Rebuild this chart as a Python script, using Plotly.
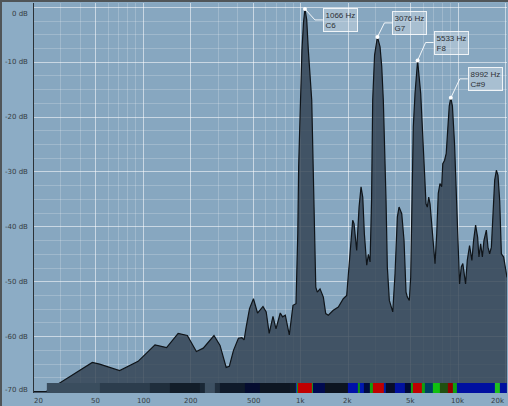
import math
import plotly.graph_objects as go

# ---------------------------------------------------------------- data
FREQ_HZ = [20, 24.3, 47.6, 53, 71, 93, 119, 141, 167, 191, 218, 241, 282, 308, 337, 353,
           375, 403, 424, 438, 451, 474, 502, 533, 577, 605, 632, 668, 698, 743, 769, 800,
           848, 895, 935, 945, 960, 972, 995, 1020, 1044, 1066, 1094, 1120, 1177, 1205,
           1223, 1249, 1277, 1329, 1395, 1444, 1500, 1613, 1736, 1867, 1962, 2030, 2091,
           2142, 2184, 2271, 2351, 2420, 2482, 2540, 2630, 2694, 2762, 2822, 2870, 2950,
           3076, 3195, 3275, 3352, 3488, 3555, 3660, 3848, 3978, 4115, 4218, 4388, 4538,
           4672, 4761, 4901, 5001, 5075, 5120, 5195, 5328, 5533, 5790, 5963, 6105, 6258,
           6376, 6508, 6634, 6801, 6963, 7138, 7318, 7483, 7673, 7866, 7994, 8202, 8408,
           8606, 8785, 8992, 9205, 9494, 9733, 9963, 10217, 10476, 10718, 11155, 11436,
           11828, 12233, 12541, 12917, 13306, 13564, 13906, 14258, 14591, 15116, 15477,
           15862, 16266, 16653, 17076, 17503, 17920, 18369, 18829, 19471, 20442]
LEVEL_DB = [-70, -70, -64.7, -65.0, -66.2, -64.5, -61.5, -62.0, -59.4, -59.8, -62.7, -62.1,
            -59.8, -61.6, -65.6, -65.4, -62.5, -60.3, -60.2, -60.6, -58.3, -54.9, -53.1,
            -55.7, -54.5, -55.5, -59.4, -56.3, -58.6, -55.7, -56.4, -56.1, -59.7, -54.3,
            -54.0, -49.8, -41.2, -29.1, -16.9, -7.8, -2.7, -0.3, -2.3, -7.8, -16.9, -29.1,
            -41.2, -51.0, -51.9, -51.3, -52.8, -55.8, -56.1, -55.2, -54.6, -53.1, -52.5,
            -47.3, -41.2, -38.8, -39.4, -44.3, -36.4, -32.7, -34.6, -41.2, -47.0, -45.0,
            -46.4, -35.2, -16.9, -8.7, -5.4, -7.2, -10.8, -16.9, -35.2, -47.3, -53.4,
            -55.5, -48.5, -38.2, -36.4, -37.6, -42.5, -51.9, -52.8, -53.4, -49.2, -40.0,
            -27.9, -21.8, -15.7, -9.7, -15.7, -23.6, -30.9, -35.8, -36.4, -34.6, -35.8,
            -40.0, -44.3, -46.7, -41.2, -33.9, -32.1, -32.7, -28.5, -27.9, -26.6, -21.8,
            -18.0, -16.5, -18.0, -24.8, -34.0, -43.1, -50.4, -47.3, -46.7, -50.4, -46.1,
            -43.4, -46.1, -42.5, -39.7, -41.9, -45.5, -43.1, -45.5, -42.5, -40.6, -43.7,
            -44.9, -43.7, -38.8, -31.5, -29.7, -30.6, -35.2, -44.9, -45.5, -49.2]

PEAK_HZ = [1066, 3076, 5533, 8992]
PEAK_DB = [-0.3, -5.4, -9.7, -16.5]
PEAK_NOTE = ["C6", "G7", "F8", "C#9"]

# pitch-colour strip along the bottom: band edges (Hz) and band colours
STRIP_EDGES_HZ = [24.5, 53, 111, 148, 230, 247, 286, 308, 444, 552, 857, 935, 949, 963,
                  1173, 1199, 1429, 2000, 2314, 2384, 2528, 2759, 2861, 3385, 3486, 3977,
                  4603, 5024, 5135, 5858, 6166, 6931, 7676, 8630, 9284, 9840, 17155, 18457,
                  20442]
STRIP_COLORS = ["#3a4d5e", "#2c3d4d", "#1f2e3c", "#121d29", "#1a2836", "#3e5163",
                "#22303f", "#0f1a2a", "#050c30", "#0d1622", "#111a2a", "#1030c0",
                "#10a010", "#c00000", "#20a020", "#000a50", "#0c1420", "#0010a8",
                "#109010", "#0018b0", "#000a40", "#10a010", "#c00000", "#0020a0",
                "#080c28", "#0010a0", "#000838", "#10a010", "#c00000", "#10a010",
                "#004060", "#10c010", "#205010", "#900000", "#10a010", "#0010a0",
                "#20c020", "#0010a0"]

X_LABEL_HZ = [20, 50, 100, 200, 500, 1000, 2000, 5000, 10000, 20000]
X_LABEL_TEXT = ["20", "50", "100", "200", "500", "1k", "2k", "5k", "10k", "20k"]
X_MINOR_HZ = [m * 10 ** d for d in range(1, 5) for m in (3, 4, 6, 7, 8, 9)]
Y_LABEL_DB = [0, -10, -20, -30, -40, -50, -60, -70]

assert len(FREQ_HZ) == len(LEVEL_DB), (len(FREQ_HZ), len(LEVEL_DB))
assert len(STRIP_EDGES_HZ) == len(STRIP_COLORS) + 1

# ---------------------------------------------------------------- geometry
W, H = 508, 406
M_L, M_R, M_T, M_B = 34, 1, 3, 13
PLOT_W, PLOT_H = W - M_L - M_R, H - M_T - M_B
X_LO, X_HI = math.log10(20.3), math.log10(20442)
Y_LO, Y_HI = -70.27, 0.78
PX_PER_DEC = PLOT_W / (X_HI - X_LO)
PX_PER_DB = PLOT_H / (Y_HI - Y_LO)

BG_PAPER = "#8cacc5"
BG_PLOT = "#87a7c0"
GRID_MAJOR = "rgba(255,255,255,0.55)"
GRID_MINOR = "rgba(255,255,255,0.2)"
TEXT = "#363c42"
FRAME = "#505558"

# leader line elbow offsets in pixels (right, down) and horizontal leg length
LEADER_OFFSETS = [(10, 11), (7, -14), (8, -18), (9, -19)]
LEADER_LEG = 8

fig = go.Figure()

# invisible floor so the spectrum fills downward
fig.add_trace(go.Scatter(x=[FREQ_HZ[0], FREQ_HZ[-1]], y=[Y_LO - 5, Y_LO - 5],
                         mode="lines", line=dict(width=0), hoverinfo="skip",
                         showlegend=False))
fig.add_trace(go.Scatter(x=FREQ_HZ, y=LEVEL_DB, mode="lines", fill="tonexty",
                         fillcolor="rgba(47,63,78,0.8)",
                         line=dict(color="#0f1419", width=1.2),
                         hoverinfo="skip", showlegend=False))

annotations = []
for hz, db, note, (dx, dy) in zip(PEAK_HZ, PEAK_DB, PEAK_NOTE, LEADER_OFFSETS):
    lx = math.log10(hz)
    ex = lx + dx / PX_PER_DEC
    bx = lx + (dx + LEADER_LEG) / PX_PER_DEC
    ey = db - dy / PX_PER_DB
    fig.add_trace(go.Scatter(x=[hz, 10 ** ex, 10 ** bx], y=[db, ey, ey], mode="lines",
                             line=dict(color="rgba(255,255,255,0.9)", width=1),
                             hoverinfo="skip", showlegend=False))
    annotations.append(dict(x=bx, y=ey, xref="x", yref="y", xanchor="left",
                            yanchor="middle", showarrow=False, align="left",
                            text=f"{hz} Hz<br>{note}",
                            font=dict(family="Liberation Sans", size=8, color="#2c3035"),
                            bgcolor="rgba(255,255,255,0.28)",
                            bordercolor="rgba(255,255,255,0.85)", borderwidth=1,
                            borderpad=1.5))

fig.add_trace(go.Scatter(x=PEAK_HZ, y=PEAK_DB, mode="markers",
                         marker=dict(color="white", size=4, line=dict(width=0)),
                         hoverinfo="skip", showlegend=False))

# pitch-colour strip on an overlaid axis pair so it sits above the fill
n = len(STRIP_COLORS)
strip_top = Y_LO + 10 / PX_PER_DB
fig.add_trace(go.Heatmap(x=STRIP_EDGES_HZ, y=[Y_LO, strip_top], z=[list(range(n))],
                         colorscale=[[i / (n - 1), c] for i, c in enumerate(STRIP_COLORS)],
                         zmin=0, zmax=n - 1, showscale=False, hoverinfo="skip",
                         xaxis="x2", yaxis="y2"))

# axis labels (frequency labels placed in paper space so the end ones stay visible)
x_shift = {20: 6, 20000: -8}
for hz, txt in zip(X_LABEL_HZ, X_LABEL_TEXT):
    px = (math.log10(hz) - X_LO) / (X_HI - X_LO)
    annotations.append(dict(x=px, y=0, xref="paper", yref="paper",
                            xanchor="center", yanchor="top", yshift=-2,
                            xshift=x_shift.get(hz, 0),
                            showarrow=False, text=txt,
                            font=dict(family="DejaVu Sans", size=7, color=TEXT)))
y_shift = {0: -6.5, -70: 2}
for db in Y_LABEL_DB:
    annotations.append(dict(x=0, y=db, xref="paper", yref="y", xanchor="right",
                            yanchor="middle", xshift=-4, yshift=y_shift.get(db, 0),
                            showarrow=False, text=f"{db} dB",
                            font=dict(family="DejaVu Sans", size=7, color=TEXT)))

fig.update_layout(
    width=W, height=H,
    margin=dict(l=M_L, r=M_R, t=M_T, b=M_B),
    paper_bgcolor=BG_PAPER, plot_bgcolor=BG_PLOT,
    showlegend=False, hovermode=False,
    xaxis=dict(type="log", range=[X_LO, X_HI], tickmode="array",
               tickvals=X_LABEL_HZ, showticklabels=False, ticks="",
               showgrid=True, gridcolor=GRID_MAJOR, gridwidth=1,
               minor=dict(tickmode="array", tickvals=X_MINOR_HZ, showgrid=True,
                          gridcolor=GRID_MINOR, gridwidth=1),
               zeroline=False, showline=False, fixedrange=True),
    yaxis=dict(range=[Y_LO, Y_HI], tick0=0, dtick=10, showticklabels=False,
               ticks="", showgrid=True, gridcolor=GRID_MAJOR, gridwidth=1,
               minor=dict(tick0=0, dtick=2.5, showgrid=True, gridcolor=GRID_MINOR,
                          gridwidth=1),
               zeroline=False, showline=True, linecolor="#2b3238", linewidth=1.5,
               fixedrange=True),
    xaxis2=dict(type="log", range=[X_LO, X_HI], overlaying="x", visible=False,
                fixedrange=True),
    yaxis2=dict(range=[Y_LO, Y_HI], overlaying="y", visible=False, fixedrange=True),
    annotations=annotations,
    shapes=[
        dict(type="line", xref="paper", yref="paper",
             x0=-M_L / PLOT_W, x1=1 + M_R / PLOT_W,
             y0=1 + (M_T - 1) / PLOT_H, y1=1 + (M_T - 1) / PLOT_H,
             line=dict(color=FRAME, width=2)),
        dict(type="line", xref="paper", yref="paper",
             x0=-(M_L - 1) / PLOT_W, x1=-(M_L - 1) / PLOT_W,
             y0=-M_B / PLOT_H, y1=1 + M_T / PLOT_H,
             line=dict(color=FRAME, width=2)),
    ],
)

fig.write_html("out.html", config=dict(displayModeBar=False, staticPlot=True))
